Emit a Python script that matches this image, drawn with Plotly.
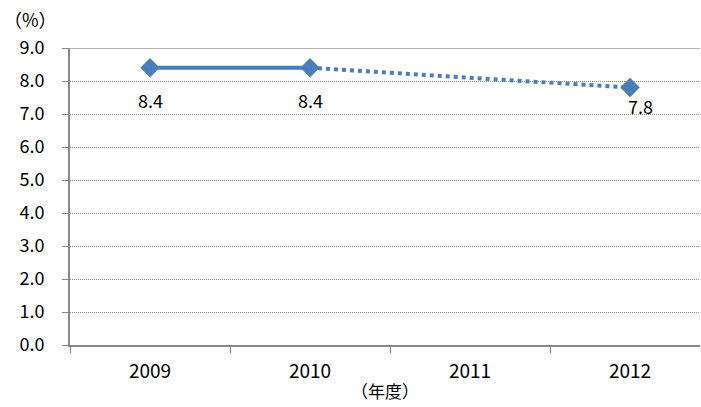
import plotly.graph_objects as go

# data
years = ["2009", "2010", "2011", "2012"]
rate = [8.4, 8.4, None, 7.8]          # % per fiscal year, 2011 not reported
solid_years = ["2009", "2010"]
solid_vals = [8.4, 8.4]
dotted_years = ["2010", "2012"]
dotted_vals = [8.4, 7.8]
y_ticks = [0, 1, 2, 3, 4, 5, 6, 7, 8, 9]

blue = "#4A7EBB"
font = "Noto Sans CJK JP, Liberation Sans, sans-serif"

fig = go.Figure()

fig.add_trace(go.Scatter(
    x=solid_years, y=solid_vals, mode="lines",
    line=dict(color=blue, width=4), showlegend=False, hoverinfo="skip"
))
fig.add_trace(go.Scatter(
    x=dotted_years, y=dotted_vals, mode="lines",
    line=dict(color=blue, width=4, dash="dot"), showlegend=False, hoverinfo="skip"
))
pts_idx = [i for i, v in enumerate(rate) if v is not None]
pts_x = [years[i] for i in pts_idx]
pts_y = [rate[i] for i in pts_idx]
fig.add_trace(go.Scatter(
    x=pts_x, y=pts_y, mode="markers",
    marker=dict(symbol="diamond", size=15, color=blue), showlegend=False
))

# value labels sit under each point (last one nudged right, closer)
for i, v, dx, dy in zip(pts_idx, pts_y, [0, 0, 10], [-32, -32, -18]):
    fig.add_annotation(x=i, y=v, xref="x", yref="y", text=f"{v:.1f}",
                       showarrow=False, yshift=dy, xshift=dx,
                       font=dict(size=18, color="#000"))

# solid top border line at the max tick
fig.add_hline(y=y_ticks[-1], line=dict(color="#999", width=1.5))

fig.update_xaxes(
    type="category", categoryorder="array", categoryarray=years,
    range=[-0.5, 3.4375], tickson="boundaries", ticks="outside", ticklen=6,
    tickcolor="#888", showline=True, linecolor="#888", linewidth=2,
    showgrid=False, tickfont=dict(size=19, color="#000"), automargin=False,
    ticklabelstandoff=8,
    title=dict(text="（年度）", font=dict(size=17, color="#000"), standoff=4)
)
fig.update_yaxes(
    range=[0, 9], tickvals=y_ticks, ticktext=[f"{t:.1f}" for t in y_ticks],
    ticks="outside", ticklen=6, tickcolor="#888", showline=True,
    linecolor="#888", linewidth=2, gridcolor="#8c8c8c", griddash="1px,1px",
    gridwidth=1, zeroline=False, tickfont=dict(size=18, color="#000"),
    automargin=False, ticklabelstandoff=14
)

fig.add_annotation(x=0, y=1, xref="paper", yref="paper", xanchor="center",
                   yanchor="bottom", text="（%）", showarrow=False,
                   xshift=-40, yshift=14, font=dict(size=18, color="#000"))

fig.update_layout(
    width=701, height=407, margin=dict(l=70, r=1, t=48, b=62),
    plot_bgcolor="white", paper_bgcolor="white", font=dict(family=font)
)

# drop the default page margin so the figure fills the window exactly
fig.write_html("out.html", config={"displayModeBar": False},
               post_script="document.body.style.margin='0';")
